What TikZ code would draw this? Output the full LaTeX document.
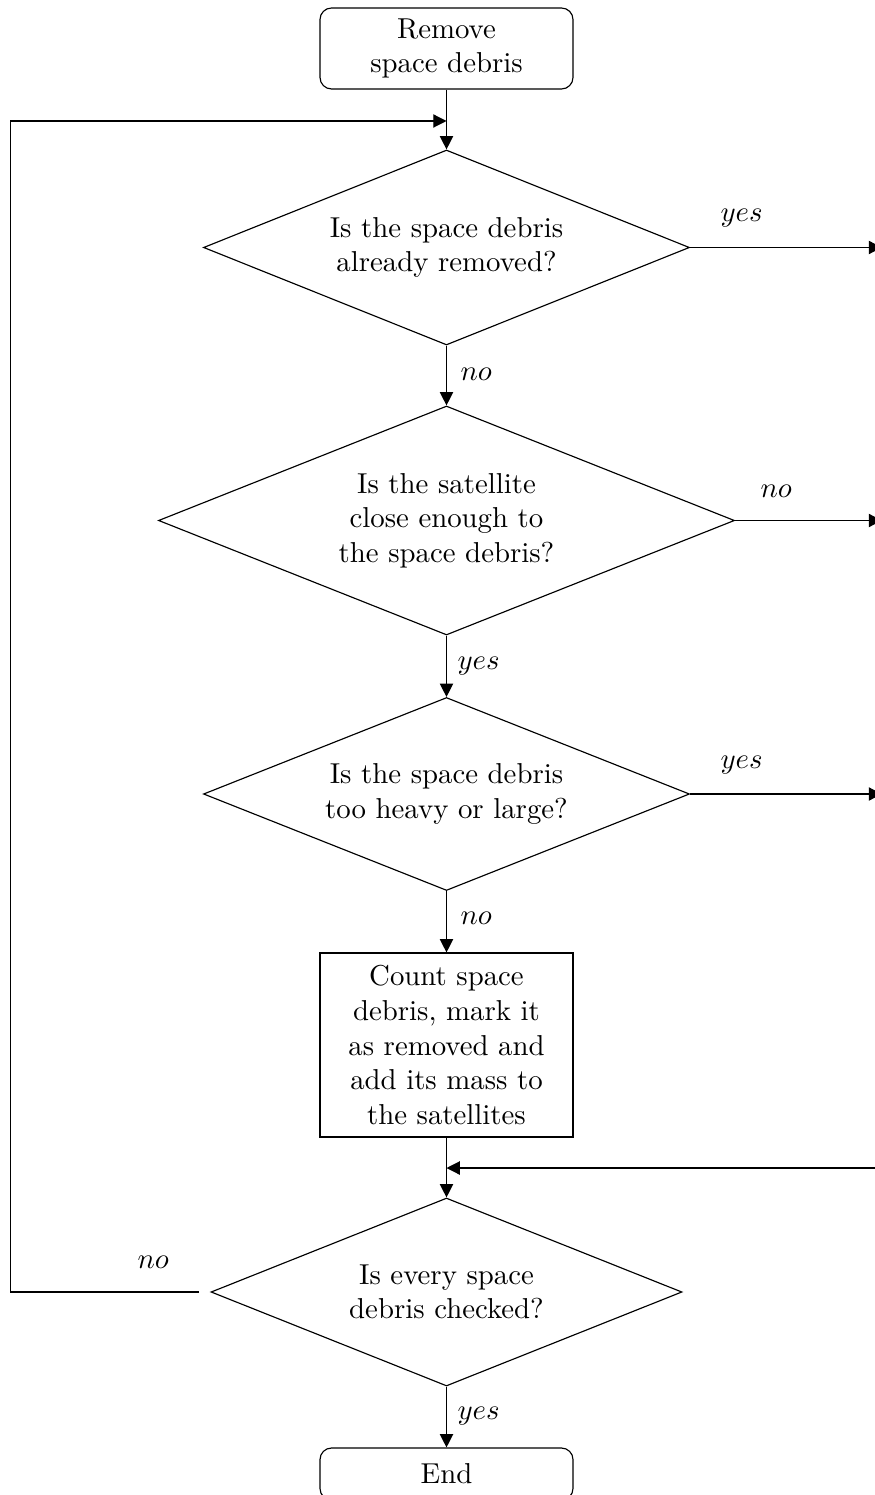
\documentclass[tikz,border=0pt]{standalone}
\usetikzlibrary{shapes.geometric,arrows.meta}
\newdimen\pxu \pxu=0.3472pt
\begin{document}
\begin{tikzpicture}[x=0.3472pt,y=-0.3472pt,
  term/.style={draw, rounded corners=4pt, align=center, inner sep=0pt, minimum width={253*\pxu}},
  proc/.style={draw, align=center, inner sep=0pt, minimum width={253*\pxu}},
  decision/.style={draw, diamond, shape aspect=2.5, align=center, inner sep=0pt},
  flow/.style={-{Triangle[length=4.6pt,width=4.6pt]}},
  lbl/.style={inner sep=0pt, anchor=base west}]
\useasboundingbox (0,0) rectangle (874,1495);
% nodes
\node[term, minimum height={81*\pxu}] (start) at (446.5,48.5) {Remove\\space debris};
\node[decision, minimum width={486*\pxu}, minimum height={195*\pxu}] (d1) at (446.5,247.5) {Is the space debris\\already removed?};
\node[decision, minimum width={576*\pxu}, minimum height={229*\pxu}] (d2) at (446.5,520.5) {Is the satellite\\close enough to\\the space debris?};
\node[decision, minimum width={486*\pxu}, minimum height={193*\pxu}] (d3) at (446.5,794) {Is the space debris\\too heavy or large?};
\node[proc, minimum height={184*\pxu}] (box) at (446.5,1045) {Count space\\debris, mark it\\as removed and\\add its mass to\\the satellites};
\node[decision, minimum width={471*\pxu}, minimum height={188*\pxu}] (d4) at (446.5,1292) {Is every space\\debris checked?};
\node[term, minimum height={52*\pxu}] (end) at (446.5,1474) {End};
% free ends
\coordinate (r1) at (882,247.5);
\coordinate (r2) at (882,520.5);
\coordinate (r3) at (882,794);
\coordinate (m0) at (882,1168);
\coordinate (m1) at (446.5,1168);
\coordinate (l0) at (199,1292);
\coordinate (l1) at (10.5,1292);
\coordinate (l2) at (10.5,121);
\coordinate (l3) at (446.5,121);
% connectors
\draw[flow] (start) -- (d1);
\draw[flow] (d1) -- (d2);
\draw[flow] (d2) -- (d3);
\draw[flow] (d3) -- (box);
\draw[flow] (box) -- (d4);
\draw[flow] (d4) -- (end);
\draw[flow] (d1.east) -- (r1);
\draw[flow] (d2.east) -- (r2);
\draw[flow] (d3.east) -- (r3);
\draw[flow] (m0) -- (m1);
\draw[flow] (l0) -- (l1) -- (l2) -- (l3);
% labels
\node[lbl] (ly1) at (720,222) {$yes$};
\node[lbl] (ln2) at (760,498) {$no$};
\node[lbl] (ly3) at (720,768) {$yes$};
\node[lbl] (ln4) at (137,1268) {$no$};
\node[lbl] (ln1) at (460,381) {$no$};
\node[lbl] (ly2) at (457,669) {$yes$};
\node[lbl] (ln3) at (460,924) {$no$};
\node[lbl] (ly4) at (457,1419) {$yes$};
\end{tikzpicture}
\end{document}
